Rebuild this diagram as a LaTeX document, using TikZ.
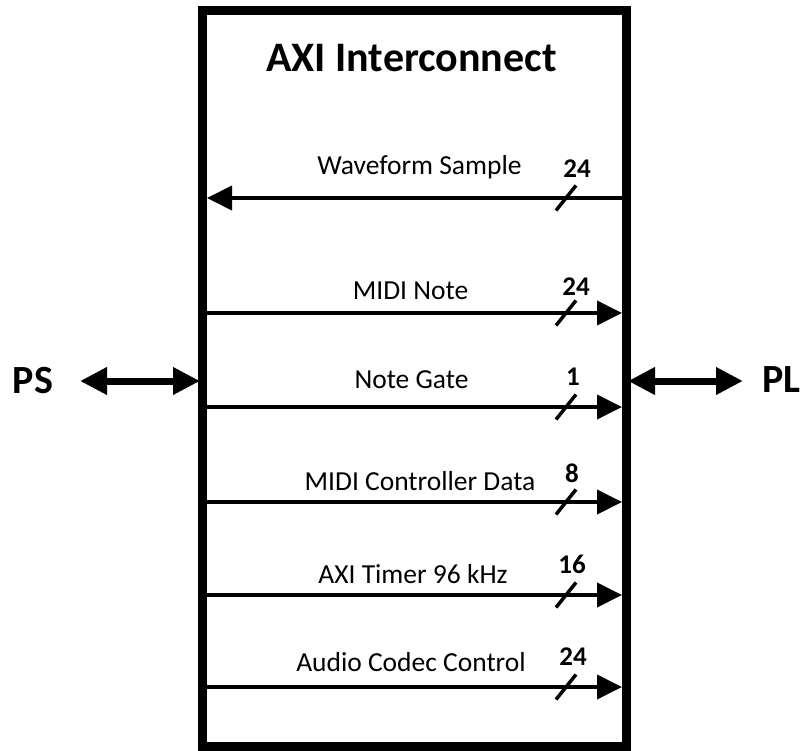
\documentclass[tikz,border=0pt]{standalone}
\usepackage{fontspec}
\setmainfont{Carlito}
\usetikzlibrary{arrows.meta,calc}
\begin{document}
\begin{tikzpicture}[x=1pt,y=-1pt,
  frame/.style={draw, line width=9pt, minimum width=423.5pt, minimum height=735.5pt, inner sep=0pt},
  sig/.style={line width=4pt, -{Triangle[length=25pt,width=24pt]}},
  sigback/.style={line width=4pt, {Triangle[length=25pt,width=24pt]}-},
  bus/.style={line width=7pt, {Triangle[length=27pt,width=26pt]}-{Triangle[length=27pt,width=26pt]}},
  slash/.style={line width=3.5pt},
  ttl/.style={font=\fontsize{42}{50}\selectfont\bfseries, anchor=base, inner sep=0pt},
  side/.style={font=\fontsize{40}{48}\selectfont\bfseries, anchor=base, inner sep=0pt},
  lbl/.style={font=\fontsize{27.5}{33}\selectfont, anchor=base, inner sep=0pt},
  bitw/.style={font=\fontsize{27}{32}\selectfont\bfseries, anchor=base, inner sep=0pt}]

\useasboundingbox (0,0) rectangle (803,751);

% interconnect block
\node[frame] (axi) at (414.25,378.25) {};
\node[ttl] (title) at (411.5,72) {AXI Interconnect};

% PS / PL sides
\node[side] (ps) at (33,393) {PS};
\node[side] (pl) at (781.5,392) {PL};
\coordinate (psL) at (80,381);
\coordinate (psR) at (200,381);
\coordinate (plL) at (628,381);
\coordinate (plR) at (743,381);
\draw[bus] (psL) -- (psR);
\draw[bus] (plL) -- (plR);

% signal rails: left end, right end, bus-width tick
\foreach \n/\y in {wav/198, note/313, gate/407, ctrl/502, tmr/595, codec/687} {
  \coordinate (\n-l) at (207,\y);
  \coordinate (\n-r) at (622,\y);
  \coordinate (\n-t) at (566,\y);
}

\draw[sigback] (wav-l) -- (wav-r);
\foreach \n in {note, gate, ctrl, tmr, codec}
  \draw[sig] (\n-l) -- (\n-r);

\foreach \n in {wav, note, gate, ctrl, tmr, codec}
  \draw[slash] ($(\n-t)+(-10,12.5)$) -- ($(\n-t)+(10,-12.5)$);

% signal names
\node[lbl] (l-wav)   at (419.5,175) {Waveform Sample};
\node[lbl] (l-note)  at (410.5,299) {MIDI Note};
\node[lbl] (l-gate)  at (411.5,388) {Note Gate};
\node[lbl] (l-ctrl)  at (420,490)   {MIDI Controller Data};
\node[lbl] (l-tmr)   at (413,583)   {AXI Timer 96 kHz};
\node[lbl] (l-codec) at (411,671)   {Audio Codec Control};

% bus widths
\node[bitw] (w-wav)   at (577,177.5) {24};
\node[bitw] (w-note)  at (576,295)   {24};
\node[bitw] (w-gate)  at (573,385)   {1};
\node[bitw] (w-ctrl)  at (572,482)   {8};
\node[bitw] (w-tmr)   at (572,573)   {16};
\node[bitw] (w-codec) at (573,665)   {24};
\end{tikzpicture}
\end{document}
